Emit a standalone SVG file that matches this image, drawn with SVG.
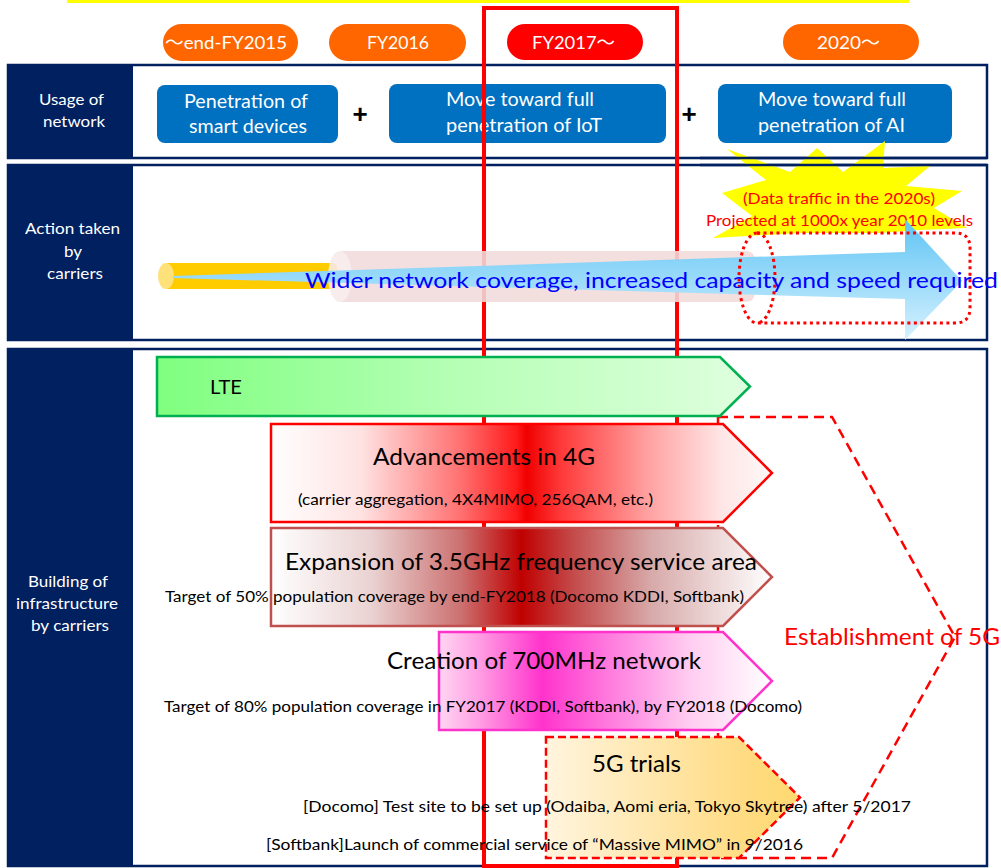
<svg xmlns="http://www.w3.org/2000/svg" width="1001" height="868" viewBox="0 0 1001 868">
  <style>
    .t { font-family: Lato, "Noto Sans", "Noto Sans CJK JP", sans-serif; }
    .lbl { font-size: 16px; fill: #FFFFFF; }
    .pill { font-size: 18px; fill: #FFFFFF; }
    .box { font-size: 19px; fill: #FFFFFF; }
    .big { font-size: 24px; fill: #000000; }
    .small { font-size: 16px; fill: #000000; }
    .frame { fill: #FFFFFF; stroke: #002060; stroke-width: 2.5; }
    .edge { stroke: #002060; stroke-width: 2.5; fill: none; }
    .col { fill: #002060; }
    .usage { fill: #0070C0; }
    .plus { font-family: "Liberation Sans", sans-serif; font-size: 26px; font-weight: bold; fill: #000000; }
  </style>
  <defs>
    <linearGradient id="gLTE" gradientUnits="userSpaceOnUse" x1="157" y1="0" x2="750" y2="0">
      <stop offset="0" stop-color="#7FFF7F"/>
      <stop offset="0.5" stop-color="#B5FFB5"/>
      <stop offset="1" stop-color="#DFFFDF"/>
    </linearGradient>
    <linearGradient id="g4G" gradientUnits="userSpaceOnUse" x1="271" y1="0" x2="772" y2="0">
      <stop offset="0" stop-color="#FFFFFF"/>
      <stop offset="0.18" stop-color="#FFE2E2"/>
      <stop offset="0.38" stop-color="#FF7070"/>
      <stop offset="0.49" stop-color="#FF1A1A"/>
      <stop offset="0.51" stop-color="#F00000"/>
      <stop offset="0.58" stop-color="#FF3A3A"/>
      <stop offset="0.75" stop-color="#FFA0A0"/>
      <stop offset="0.9" stop-color="#FFE6E6"/>
      <stop offset="1" stop-color="#FFF8F8"/>
    </linearGradient>
    <linearGradient id="g35" gradientUnits="userSpaceOnUse" x1="271" y1="0" x2="772" y2="0">
      <stop offset="0" stop-color="#FFFFFF"/>
      <stop offset="0.2" stop-color="#EAD2D2"/>
      <stop offset="0.38" stop-color="#CC7070"/>
      <stop offset="0.5" stop-color="#C00000"/>
      <stop offset="0.6" stop-color="#C44848"/>
      <stop offset="0.76" stop-color="#D8AAAA"/>
      <stop offset="1" stop-color="#FFFFFF"/>
    </linearGradient>
    <linearGradient id="g700" gradientUnits="userSpaceOnUse" x1="439" y1="0" x2="772" y2="0">
      <stop offset="0" stop-color="#FFD6F2"/>
      <stop offset="0.12" stop-color="#FF9EE3"/>
      <stop offset="0.31" stop-color="#FF33CC"/>
      <stop offset="0.5" stop-color="#FF77DD"/>
      <stop offset="0.75" stop-color="#FFCCF0"/>
      <stop offset="1" stop-color="#FFFFFF"/>
    </linearGradient>
    <linearGradient id="g5G" gradientUnits="userSpaceOnUse" x1="546" y1="0" x2="800" y2="0">
      <stop offset="0" stop-color="#FFF4DE"/>
      <stop offset="0.8" stop-color="#FFDB80"/>
      <stop offset="1" stop-color="#FFD970"/>
    </linearGradient>
    <linearGradient id="gWide" gradientUnits="userSpaceOnUse" x1="0" y1="218" x2="0" y2="340">
      <stop offset="0" stop-color="#5EC4F4"/>
      <stop offset="1" stop-color="#D6F1FF"/>
    </linearGradient>
  </defs>

  <!-- top rule -->
  <rect x="67" y="-4" width="842" height="7" fill="#FFFF00"/>

  <!-- row frames with their heading columns -->
  <g id="rows">
    <g id="row-usage">
      <rect class="frame" x="8" y="65" width="979" height="93"/>
      <rect class="col" x="8" y="65" width="125" height="93"/>
      <text class="t lbl" x="39" y="105" textLength="65" lengthAdjust="spacingAndGlyphs">Usage of</text>
      <text class="t lbl" x="43" y="127" textLength="62" lengthAdjust="spacingAndGlyphs">network</text>
    </g>
    <g id="row-action">
      <rect class="frame" x="8" y="165" width="979" height="175"/>
      <rect class="col" x="8" y="165" width="125" height="175"/>
      <text class="t lbl" x="25" y="234" textLength="95" lengthAdjust="spacingAndGlyphs">Action taken</text>
      <text class="t lbl" x="64" y="257" textLength="18" lengthAdjust="spacingAndGlyphs">by</text>
      <text class="t lbl" x="47" y="279" textLength="56" lengthAdjust="spacingAndGlyphs">carriers</text>
    </g>
    <g id="row-building">
      <rect class="frame" x="8" y="349" width="979" height="517"/>
      <rect class="col" x="8" y="349" width="125" height="517"/>
      <text class="t lbl" x="28" y="587" textLength="80" lengthAdjust="spacingAndGlyphs">Building of</text>
      <text class="t lbl" x="16" y="609" textLength="102" lengthAdjust="spacingAndGlyphs">infrastructure</text>
      <text class="t lbl" x="31" y="631" textLength="78" lengthAdjust="spacingAndGlyphs">by carriers</text>
    </g>
  </g>

  <!-- period labels -->
  <g id="periods">
    <g id="p2015">
      <rect x="163" y="24" width="135" height="37" rx="18.5" fill="#FF6600"/>
      <text class="t pill" x="165" y="49" textLength="122" lengthAdjust="spacingAndGlyphs">〜end-FY2015</text>
    </g>
    <g id="p2016">
      <rect x="329" y="24" width="137" height="37" rx="18.5" fill="#FF6600"/>
      <text class="t pill" x="367" y="49" textLength="62" lengthAdjust="spacingAndGlyphs">FY2016</text>
    </g>
    <g id="p2017">
      <rect x="507" y="24" width="136" height="36" rx="18" fill="#FF0000"/>
      <text class="t pill" x="532" y="49" textLength="83" lengthAdjust="spacingAndGlyphs">FY2017〜</text>
    </g>
    <g id="p2020">
      <rect x="783" y="24" width="136" height="36" rx="18" fill="#FF6600"/>
      <text class="t pill" x="817" y="49" textLength="63" lengthAdjust="spacingAndGlyphs">2020〜</text>
    </g>
  </g>

  <!-- network usage stages -->
  <g id="usage-smart">
    <rect class="usage" x="157" y="85" width="181" height="58" rx="8"/>
    <text class="t box" x="184" y="108" textLength="124" lengthAdjust="spacingAndGlyphs">Penetration of</text>
    <text class="t box" x="189" y="133" textLength="118" lengthAdjust="spacingAndGlyphs">smart devices</text>
  </g>
  <text class="plus" x="360" y="123" text-anchor="middle">+</text>
  <g id="usage-iot">
    <rect class="usage" x="389" y="84" width="277" height="59" rx="8"/>
    <text class="t box" x="446" y="106" textLength="148" lengthAdjust="spacingAndGlyphs">Move toward full</text>
    <text class="t box" x="446" y="132" textLength="156" lengthAdjust="spacingAndGlyphs">penetration of IoT</text>
  </g>
  <text class="plus" x="689" y="123" text-anchor="middle">+</text>
  <g id="usage-ai">
    <rect class="usage" x="718" y="84" width="234" height="59" rx="8"/>
    <text class="t box" x="758" y="106" textLength="148" lengthAdjust="spacingAndGlyphs">Move toward full</text>
    <text class="t box" x="758" y="132" textLength="147" lengthAdjust="spacingAndGlyphs">penetration of AI</text>
  </g>

  <!-- current-period highlight frame: over the usage row, under the lower rows' shapes -->
  <rect id="fy2017-frame" x="484" y="8" width="193" height="858" fill="none" stroke="#FF0000" stroke-width="4"/>

  <!-- traffic growth burst -->
  <g id="traffic-burst">
    <polygon points="727,149 790,172 817,148 843,172 885,141 883,168 930,166 906,186 962,191 934,208 967,228 920,230 880,233 800,233 713,238 752,216 722,193 766,180" fill="#FFFF00"/>
    <!-- row borders stay visible across the burst -->
    <line class="edge" x1="700" y1="158" x2="987" y2="158"/>
    <line class="edge" x1="700" y1="165" x2="987" y2="165"/>
    <text class="t" x="743" y="204" font-size="15" fill="#FF0000" textLength="192" lengthAdjust="spacingAndGlyphs">(Data traffic in the 2020s)</text>
    <text class="t" x="706" y="226" font-size="15" fill="#FF0000" textLength="267" lengthAdjust="spacingAndGlyphs">Projected at 1000x year 2010 levels</text>
  </g>

  <!-- carrier action: growing pipes -->
  <g id="pipe-current">
    <path d="M166,263 L332,263 Q337,263 337,268 L337,284 Q337,289 332,289 L166,289 Z" fill="#FFCC00"/>
    <ellipse cx="166" cy="276" rx="8" ry="13" fill="#FFE17A"/>
  </g>
  <g id="pipe-future" opacity="0.88">
    <path d="M340,251 L745,251 Q755,251 755,261 L755,292 Q755,302 745,302 L340,302 Z" fill="#F2DBDB"/>
    <ellipse cx="340" cy="276.5" rx="12" ry="25.5" fill="#F8EAEA"/>
  </g>
  <g id="capacity-arrow">
    <path d="M173,276 L905,252 L905,219 L962,281 L905,340 L905,299 L173,278 Z" fill="url(#gWide)"/>
  </g>
  <g id="capacity-target">
    <path d="M757,233 L955,233 Q970,233 970,248 L970,308 Q970,323 955,323 L757,323 A18,45 0 0 1 757,233 Z" fill="none" stroke="#FF0000" stroke-width="3" stroke-dasharray="3 3.5"/>
    <path d="M757,233 A18,45 0 0 1 757,323" fill="none" stroke="#FF0000" stroke-width="3" stroke-dasharray="3 3.5"/>
  </g>
  <text class="t" x="305" y="288" font-size="22" fill="#0000FF" textLength="693" lengthAdjust="spacingAndGlyphs">Wider network coverage, increased capacity and speed required</text>

  <!-- infrastructure build-out -->
  <g id="stage-5g-establishment">
    <path d="M718,417 L832,417 L955,637 L832,858 L718,858 Z" fill="none" stroke="#FF0000" stroke-width="2.5" stroke-dasharray="10 6"/>
  </g>
  <g id="stage-lte">
    <path d="M157,357 L720,357 L750,386.5 L720,416 L157,416 Z" fill="url(#gLTE)" stroke="#00B050" stroke-width="2.5"/>
    <text class="t" x="210" y="394" font-size="20" fill="#000000" textLength="32" lengthAdjust="spacingAndGlyphs">LTE</text>
  </g>
  <g id="stage-4g">
    <path d="M271,424 L723,424 L772,473 L723,522 L271,522 Z" fill="url(#g4G)" stroke="#FF0000" stroke-width="2.5"/>
    <text class="t big" x="373" y="465" textLength="222" lengthAdjust="spacingAndGlyphs">Advancements in 4G</text>
    <text class="t small" x="298" y="505" textLength="355" lengthAdjust="spacingAndGlyphs">(carrier aggregation, 4X4MIMO, 256QAM, etc.)</text>
  </g>
  <g id="stage-35ghz">
    <path d="M271,528 L723,528 L772,577 L723,626 L271,626 Z" fill="url(#g35)" stroke="#C0504D" stroke-width="2.5"/>
    <text class="t big" x="285" y="570" textLength="472" lengthAdjust="spacingAndGlyphs">Expansion of 3.5GHz frequency service area</text>
    <text class="t small" x="165" y="602" textLength="579" lengthAdjust="spacingAndGlyphs">Target of 50% population coverage by end-FY2018 (Docomo KDDI, Softbank)</text>
  </g>
  <g id="stage-700mhz">
    <path d="M439,632 L723,632 L772,681 L723,730 L439,730 Z" fill="url(#g700)" stroke="#FF33CC" stroke-width="2.5"/>
    <text class="t big" x="387" y="669" textLength="314" lengthAdjust="spacingAndGlyphs">Creation of 700MHz network</text>
    <text class="t small" x="164" y="712" textLength="638" lengthAdjust="spacingAndGlyphs">Target of 80% population coverage in FY2017 (KDDI, Softbank), by FY2018 (Docomo)</text>
  </g>
  <g id="stage-5g-trials">
    <path d="M546,737 L739,737 L800,797.5 L739,858 L546,858 Z" fill="url(#g5G)" stroke="#FF0000" stroke-width="2.5" stroke-dasharray="8 4"/>
    <text class="t big" x="592" y="772" textLength="89" lengthAdjust="spacingAndGlyphs">5G trials</text>
    <text class="t small" x="303" y="812" textLength="608" lengthAdjust="spacingAndGlyphs">[Docomo] Test site to be set up (Odaiba, Aomi eria, Tokyo Skytree) after 5/2017</text>
    <text class="t small" x="266" y="850" textLength="537" lengthAdjust="spacingAndGlyphs">[Softbank]Launch of commercial service of “Massive MIMO” in 9/2016</text>
  </g>
  <text class="t" x="784" y="645" font-size="24" fill="#FF0000" textLength="216" lengthAdjust="spacingAndGlyphs">Establishment of 5G</text>
</svg>
